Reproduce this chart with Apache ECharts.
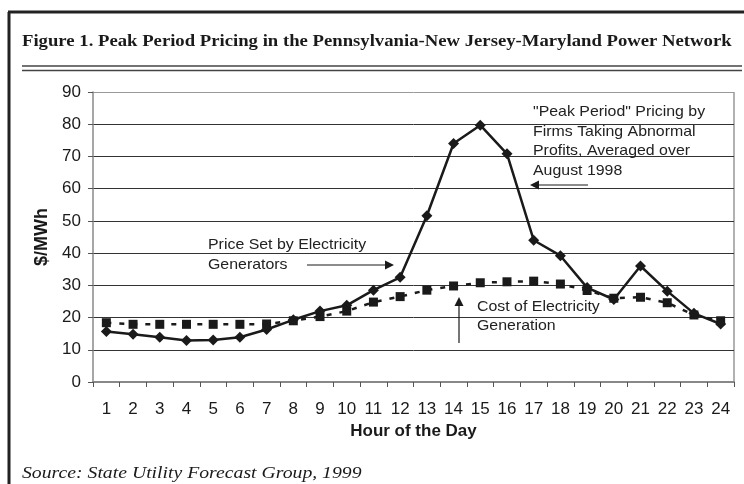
<!DOCTYPE html>
<html>
<head>
<meta charset="UTF-8">
<title></title>
<script src="https://cdn.jsdelivr.net/npm/echarts@6/dist/echarts.min.js"></script>
</head>
<body style="margin:0;background:#fff;">
<div id="chart" style="width:744px;height:484px;"></div>
<script>
// 数据：小时与价格
var hours = ['1','2','3','4','5','6','7','8','9','10','11','12','13','14','15','16','17','18','19','20','21','22','23','24'];
var peakPrice = [15.7, 14.8, 13.9, 12.9, 13, 13.9, 16.3, 19.3, 22, 23.8, 28.5, 32.5, 51.6, 74, 79.7, 70.8, 44, 39.2, 29.3, 25.6, 36, 28.2, 21.3, 18];
var genCost = [18.4, 17.9, 17.9, 17.9, 17.9, 17.9, 18, 19, 20.3, 22, 24.8, 26.5, 28.5, 29.8, 30.8, 31.1, 31.3, 30.4, 28.4, 26, 26.3, 24.6, 20.8, 19];
var yMin = 0, yMax = 90, yStep = 10;

var titleText = 'Figure 1. Peak Period Pricing in the Pennsylvania-New Jersey-Maryland Power Network';
var sourceText = 'Source: State Utility Forecast Group, 1999';

var ink = '#1a1a1a';
var annFont = '15px Arial, "Liberation Sans", sans-serif';

function arrowHead(tip, dir) {
	// 箭头三角形
	var x = tip[0], y = tip[1], L = 9, W = 4.5;
	var pts;
	if (dir === 'right') pts = [[x, y], [x - L, y - W], [x - L, y + W]];
	else if (dir === 'left') pts = [[x, y], [x + L, y - W], [x + L, y + W]];
	else pts = [[x, y], [x - W, y + L], [x + W, y + L]];
	return { type: 'polygon', shape: { points: pts }, style: { fill: ink }, z: 100 };
}
function annLine(x1, y1, x2, y2) {
	return { type: 'line', shape: { x1: x1, y1: y1, x2: x2, y2: y2 }, style: { stroke: ink, lineWidth: 1.2 }, z: 100 };
}
function annText(x, y, t) {
	return { type: 'text', x: x, y: y, scaleX: 1.06, style: { text: t, font: annFont, fill: '#222', textVerticalAlign: 'middle' }, z: 100 };
}

var option = {
	animation: false,
	backgroundColor: '#fff',
	grid: { left: 93, right: 10, top: 92, bottom: 102, show: false },
	xAxis: {
		type: 'category',
		data: hours,
		boundaryGap: true,
		name: 'Hour of the Day',
		nameLocation: 'middle',
		nameGap: 40,
		nameTextStyle: { fontFamily: 'Arial', fontWeight: 'bold', fontSize: 17, color: '#1a1a1a' },
		axisLine: { lineStyle: { color: '#888', width: 2 } },
		axisTick: { show: true, length: 5, lineStyle: { color: '#555' } },
		axisLabel: { fontFamily: 'Arial', fontSize: 17, color: '#1a1a1a', margin: 19 },
		splitLine: { show: false }
	},
	yAxis: {
		type: 'value',
		min: yMin, max: yMax, interval: yStep,
		name: '$/MWh',
		nameLocation: 'middle',
		nameGap: 35,
		nameRotate: 90,
		nameTextStyle: { fontFamily: 'Arial', fontWeight: 'bold', fontSize: 18, color: '#1a1a1a' },
		axisLine: { show: true, lineStyle: { color: '#888', width: 1.5 } },
		axisTick: { show: true, length: 5, lineStyle: { color: '#555' } },
		axisLabel: { fontFamily: 'Arial', fontSize: 17, color: '#1a1a1a', margin: 12 },
		splitLine: { show: true, lineStyle: { color: ['#888', '#333', '#333', '#333', '#333', '#333', '#333', '#333', '#333', '#999'], width: 1 } }
	},
	series: [{
		name: 'Cost of Electricity Generation',
		type: 'line',
		data: genCost,
		symbol: 'rect',
		symbolSize: 9,
		showAllSymbol: true,
		lineStyle: { color: ink, width: 2.5, type: [5, 8] },
		itemStyle: { color: ink },
		z: 3
	}, {
		name: 'Price Set by Electricity Generators',
		type: 'line',
		data: peakPrice,
		symbol: 'diamond',
		symbolSize: 11,
		showAllSymbol: true,
		lineStyle: { color: ink, width: 2.5 },
		itemStyle: { color: ink },
		z: 4
	}],
	graphic: [
		// 外框
		{ type: 'line', shape: { x1: 9, y1: 12, x2: 9, y2: 484 }, style: { stroke: '#222', lineWidth: 3 } },
		{ type: 'line', shape: { x1: 8, y1: 12, x2: 744, y2: 12 }, style: { stroke: '#222', lineWidth: 3 } },
		{ type: 'text', x: 22, y: 42, scaleX: 1.1, style: { text: titleText, font: 'bold 17px "Liberation Serif", "Times New Roman", serif', fill: '#1a1a1a', textVerticalAlign: 'middle' } },
		{ type: 'line', shape: { x1: 22, y1: 66, x2: 742, y2: 66 }, style: { stroke: '#444', lineWidth: 1.5 } },
		{ type: 'line', shape: { x1: 22, y1: 70.5, x2: 742, y2: 70.5 }, style: { stroke: '#444', lineWidth: 1.5 } },
		// 图框
		{ type: 'line', shape: { x1: 734, y1: 92, x2: 734, y2: 382 }, style: { stroke: '#999', lineWidth: 1.5 } },
		{ type: 'text', x: 22, y: 474, scaleX: 1.16, style: { text: sourceText, font: 'italic 17px "Liberation Serif", "Times New Roman", serif', fill: '#1a1a1a', textVerticalAlign: 'middle' } },
		// 注释
		annText(208, 245, 'Price Set by Electricity'),
		annText(208, 265, 'Generators'),
		annLine(307, 265, 386, 265),
		arrowHead([394, 265], 'right'),
		annText(533, 112, '"Peak Period" Pricing by'),
		annText(533, 132, 'Firms Taking Abnormal'),
		annText(533, 151, 'Profits, Averaged over'),
		annText(533, 171, 'August 1998'),
		annLine(588, 185, 538, 185),
		arrowHead([530, 185], 'left'),
		annText(477, 307, 'Cost of Electricity'),
		annText(477, 326, 'Generation'),
		annLine(459, 343, 459, 305),
		arrowHead([459, 297], 'up')
	]
};

var myChart = echarts.init(document.getElementById('chart'));
myChart.setOption(option);
</script>
</body>
</html>
